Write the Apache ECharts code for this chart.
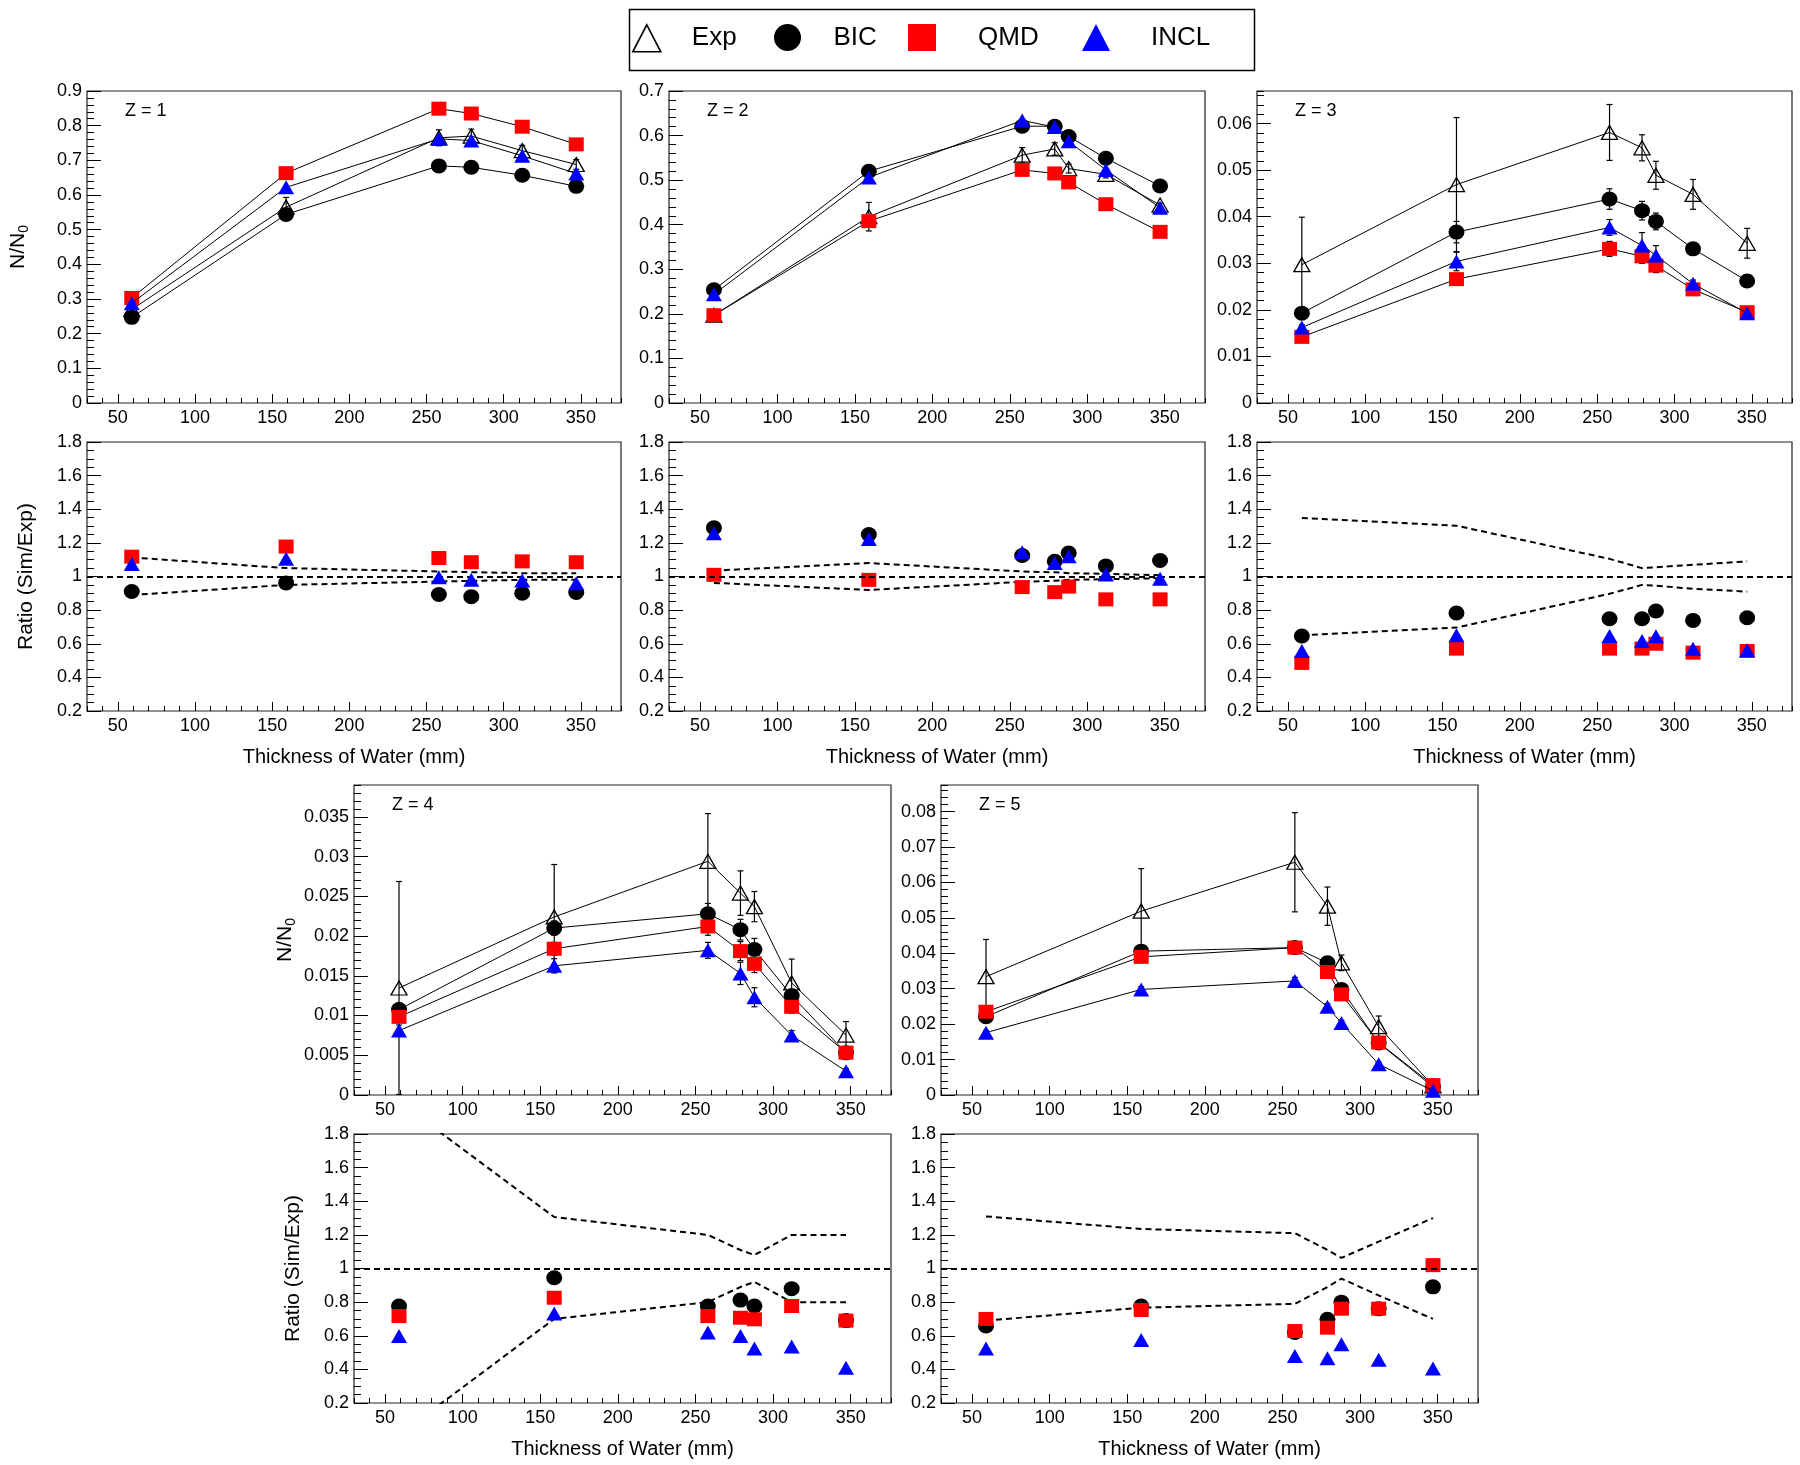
<!DOCTYPE html>
<html><head><meta charset="utf-8">
<script src="https://cdn.jsdelivr.net/npm/echarts@6/dist/echarts.min.js"></script>
<style>html,body{margin:0;padding:0;background:#fff}#c{width:1800px;height:1465px}</style>
</head><body><div id="c"></div>
<script>
// ---------------- DATA ----------------
const seriesNames = ['Exp', 'BIC', 'QMD', 'INCL'];
const xMajorTicks = [50, 100, 150, 200, 250, 300, 350];
const X6 = [59, 159, 258, 279, 312, 347];
const X7 = [59, 159, 258, 279, 288, 312, 347];

// Z = 1
const z1Exp    = [0.270, 0.565, 0.765, 0.770, 0.728, 0.688];
const z1ExpErr = [0.030, 0.028, 0.023, 0.020, 0.015, 0.014];
const z1Bic    = [0.247, 0.544, 0.684, 0.680, 0.657, 0.625];
const z1Qmd    = [0.303, 0.663, 0.849, 0.835, 0.797, 0.746];
const z1Incl   = [0.288, 0.622, 0.762, 0.757, 0.713, 0.662];
const z1RBic   = [0.911, 0.962, 0.893, 0.880, 0.900, 0.905];
const z1RQmd   = [1.118, 1.178, 1.110, 1.085, 1.090, 1.085];
const z1RIncl  = [1.075, 1.105, 0.996, 0.980, 0.976, 0.960];
const z1BandUp = [1.113, 1.050, 1.030, 1.026, 1.020, 1.020];
const z1BandLo = [0.890, 0.950, 0.970, 0.974, 0.980, 0.980];

// Z = 2
const z2Exp    = [0.197, 0.418, 0.556, 0.570, 0.526, 0.513, 0.444];
const z2ExpErr = [0.007, 0.032, 0.017, 0.014, 0.010, 0.008, 0.004];
const z2Bic    = [0.254, 0.520, 0.621, 0.621, 0.598, 0.549, 0.487];
const z2Qmd    = [0.197, 0.408, 0.523, 0.515, 0.495, 0.446, 0.384];
const z2Incl   = [0.244, 0.506, 0.634, 0.619, 0.587, 0.523, 0.438];
const z2RBic   = [1.290, 1.250, 1.125, 1.090, 1.140, 1.063, 1.095];
const z2RQmd   = [1.010, 0.980, 0.937, 0.907, 0.940, 0.864, 0.864];
const z2RIncl  = [1.257, 1.223, 1.144, 1.080, 1.120, 1.012, 0.986];
const z2BandUp = [1.035, 1.080, 1.030, 1.025, 1.020, 1.016, 1.008];
const z2BandLo = [0.962, 0.920, 0.968, 0.975, 0.980, 0.984, 0.990];

// Z = 3
const z3Exp     = [0.0297, 0.0469, 0.0581, 0.0548, 0.0489, 0.0448, 0.0343];
const z3ExpErr  = [0.0102, 0.0144, 0.0060, 0.0028, 0.0030, 0.0032, 0.0032];
const z3Bic     = [0.0193, 0.0367, 0.0438, 0.0413, 0.0390, 0.0331, 0.0262];
const z3BicErr  = [0.0006, 0.0023, 0.0022, 0.0020, 0.0018, 0.0008, 0.0006];
const z3Qmd     = [0.0142, 0.0266, 0.0331, 0.0315, 0.0295, 0.0244, 0.0195];
const z3QmdErr  = [0.0005, 0.0007, 0.0016, 0.0015, 0.0015, 0.0008, 0.0006];
const z3Incl    = [0.0162, 0.0304, 0.0377, 0.0338, 0.0317, 0.0256, 0.0193];
const z3InclErr = [0.0006, 0.0020, 0.0017, 0.0028, 0.0021, 0.0008, 0.0006];
const z3RBic    = [0.646, 0.783, 0.749, 0.749, 0.795, 0.739, 0.755];
const z3RQmd    = [0.486, 0.571, 0.571, 0.571, 0.600, 0.547, 0.557];
const z3RIncl   = [0.557, 0.650, 0.646, 0.617, 0.644, 0.571, 0.561];
const z3BandUp  = [1.348, 1.302, 1.105, 1.050, 1.055, 1.070, 1.090];
const z3BandLo  = [0.650, 0.696, 0.897, 0.950, 0.945, 0.927, 0.910];

// Z = 4
const z4Exp     = [0.01346, 0.0224, 0.0294, 0.0254, 0.0237, 0.0141, 0.00754];
const z4ExpErr  = [0.0134, 0.0066, 0.0060, 0.0028, 0.0019, 0.0030, 0.0017];
const z4Bic     = [0.01075, 0.0210, 0.0228, 0.0208, 0.0183, 0.0125, 0.0053];
const z4BicErr  = [0.0008, 0.0009, 0.0013, 0.0013, 0.0014, 0.0008, 0.0004];
const z4Qmd     = [0.00983, 0.0184, 0.0212, 0.0181, 0.0165, 0.0111, 0.00533];
const z4QmdErr  = [0.0007, 0.0008, 0.0011, 0.0012, 0.0011, 0.0008, 0.0004];
const z4Incl    = [0.0081, 0.01625, 0.0182, 0.0153, 0.0123, 0.0075, 0.0030];
const z4InclErr = [0.0007, 0.0009, 0.0010, 0.0014, 0.0012, 0.0006, 0.0003];
const z4RBic    = [0.777, 0.945, 0.777, 0.812, 0.777, 0.880, 0.690];
const z4RQmd    = [0.717, 0.826, 0.717, 0.707, 0.698, 0.777, 0.690];
const z4RIncl   = [0.599, 0.733, 0.619, 0.599, 0.524, 0.536, 0.410];
const z4BandUp  = [1.992, 1.306, 1.200, 1.110, 1.080, 1.200, 1.200];
const z4BandLo  = [0.010, 0.700, 0.800, 0.890, 0.920, 0.800, 0.800];

// Z = 5
const z5Exp     = [0.0334, 0.0519, 0.0657, 0.0533, 0.0373, 0.0193, 0.0026];
const z5ExpErr  = [0.0105, 0.0120, 0.0140, 0.0054, 0.0022, 0.0030, 0.0008];
const z5Bic     = [0.0221, 0.0406, 0.0416, 0.0373, 0.0298, 0.0147, 0.0023];
const z5BicErr  = [0.0008, 0.0012, 0.0015, 0.0012, 0.0010, 0.0006, 0.0002];
const z5Qmd     = [0.0235, 0.0390, 0.0416, 0.0347, 0.0284, 0.0148, 0.0028];
const z5QmdErr  = [0.0008, 0.0010, 0.0014, 0.0011, 0.0010, 0.0006, 0.0002];
const z5Incl    = [0.0176, 0.0298, 0.0322, 0.0249, 0.0203, 0.0087, 0.0012];
const z5InclErr = [0.0006, 0.0008, 0.0010, 0.0009, 0.0008, 0.0005, 0.0002];
const z5RBic    = [0.658, 0.777, 0.620, 0.698, 0.800, 0.760, 0.891];
const z5RQmd    = [0.700, 0.753, 0.628, 0.648, 0.761, 0.761, 1.020];
const z5RIncl   = [0.524, 0.575, 0.480, 0.466, 0.550, 0.457, 0.405];
const z5BandUp  = [1.310, 1.235, 1.210, 1.110, 1.063, 1.160, 1.300];
const z5BandLo  = [0.690, 0.767, 0.790, 0.890, 0.940, 0.840, 0.700];

const panelLabels = ['Z = 1', 'Z = 2', 'Z = 3', 'Z = 4', 'Z = 5'];
const xTitle = 'Thickness of Water (mm)';
const yTitleN = 'N/N{sub|0}';
const yTitleR = 'Ratio (Sim/Exp)';

// ---------------- LAYOUT / STYLE ----------------
const FONT = '"Liberation Sans", Arial, Helvetica, sans-serif';
const cols = [
  {left: 87, width: 534}, {left: 669, width: 536}, {left: 1257, width: 535},
  {left: 354, width: 537}, {left: 941, width: 537}
];
const nTop = [91, 91, 91, 785, 785], nH = [312, 312, 312, 310, 310];
const rTop = [442, 442, 442, 1134, 1134], rH = 269;

const nPanels = [
  {x: X6, exp: z1Exp, expErr: z1ExpErr, bic: z1Bic, qmd: z1Qmd, incl: z1Incl, errs: null, ymax: 0.9, major: 0.1, minor: 0.02, showMax: true, yName: true},
  {x: X7, exp: z2Exp, expErr: z2ExpErr, bic: z2Bic, qmd: z2Qmd, incl: z2Incl, errs: null, ymax: 0.7, major: 0.1, minor: 0.02, showMax: true, yName: false},
  {x: X7, exp: z3Exp, expErr: z3ExpErr, bic: z3Bic, qmd: z3Qmd, incl: z3Incl, errs: [z3BicErr, z3QmdErr, z3InclErr], ymax: 0.067, major: 0.01, minor: 0.002, showMax: false, yName: false},
  {x: X7, exp: z4Exp, expErr: z4ExpErr, bic: z4Bic, qmd: z4Qmd, incl: z4Incl, errs: [z4BicErr, z4QmdErr, z4InclErr], ymax: 0.039, major: 0.005, minor: 0.001, showMax: false, yName: true},
  {x: X7, exp: z5Exp, expErr: z5ExpErr, bic: z5Bic, qmd: z5Qmd, incl: z5Incl, errs: [z5BicErr, z5QmdErr, z5InclErr], ymax: 0.0875, major: 0.01, minor: 0.002, showMax: false, yName: false}
];
const rPanels = [
  {x: X6, bic: z1RBic, qmd: z1RQmd, incl: z1RIncl, up: z1BandUp, lo: z1BandLo, yName: true},
  {x: X7, bic: z2RBic, qmd: z2RQmd, incl: z2RIncl, up: z2BandUp, lo: z2BandLo, yName: false},
  {x: X7, bic: z3RBic, qmd: z3RQmd, incl: z3RIncl, up: z3BandUp, lo: z3BandLo, yName: false},
  {x: X7, bic: z4RBic, qmd: z4RQmd, incl: z4RIncl, up: z4BandUp, lo: z4BandLo, yName: true},
  {x: X7, bic: z5RBic, qmd: z5RQmd, incl: z5RIncl, up: z5BandUp, lo: z5BandLo, yName: false}
];

const markerStyle = {
  Exp:  {symbol: 'triangle', size: [16, 14], item: {color: 'rgba(255,255,255,0)', borderColor: '#000', borderWidth: 1.3, opacity: 1}},
  BIC:  {symbol: 'circle', size: [16, 15], item: {color: '#000', opacity: 1}},
  QMD:  {symbol: 'rect', size: [15, 14], item: {color: '#ff0000', opacity: 1}},
  INCL: {symbol: 'triangle', size: [16, 14], item: {color: '#0000ff', opacity: 1}}
};
const tickColor = '#000';
const dashed = {type: [6, 4], color: '#000', width: 2};

const grids = [], xAxis = [], yAxis = [], series = [];
const zip = (xs, ys) => xs.map((x, i) => [x, ys[i]]);

function addGrid(g) { grids.push(Object.assign({show: true, borderColor: '#222', borderWidth: 1.2, backgroundColor: 'transparent', containLabel: false}, g)); return grids.length - 1; }

function addAxes(gi, ymin, ymax, major, minor, showMax, xName, yName, yGap, yRich) {
  const xi = xAxis.length, yi = yAxis.length;
  xAxis.push({
    gridIndex: gi, type: 'value', min: 30, max: 376, position: 'bottom',
    axisLine: {show: false}, splitLine: {show: false},
    axisTick: {show: true, inside: true, length: 9, customValues: xMajorTicks, lineStyle: {color: tickColor, width: 1}},
    axisLabel: {show: true, customValues: xMajorTicks, fontSize: 18, color: '#000', fontFamily: FONT, margin: 6},
    name: xName || '', nameLocation: 'middle', nameGap: 36,
    nameTextStyle: {fontSize: 20, color: '#000', fontFamily: FONT}
  });
  xAxis.push({
    gridIndex: gi, type: 'value', min: 30, max: 376, interval: 10, position: 'bottom',
    axisLine: {show: false}, splitLine: {show: false}, axisLabel: {show: false},
    axisTick: {show: true, inside: true, length: 5, lineStyle: {color: tickColor, width: 1}}
  });
  yAxis.push({
    gridIndex: gi, type: 'value', min: ymin, max: ymax, interval: major, position: 'left',
    axisLine: {show: false}, splitLine: {show: false},
    axisTick: {show: true, inside: true, length: 14, lineStyle: {color: tickColor, width: 1}},
    axisLabel: {show: true, fontSize: 18, color: '#000', fontFamily: FONT, margin: 5, showMaxLabel: showMax, showMinLabel: true},
    name: yName || '', nameLocation: 'middle', nameRotate: 90, nameGap: yGap,
    nameTextStyle: {fontSize: 21, color: '#000', fontFamily: FONT, rich: yRich || {}}
  });
  yAxis.push({
    gridIndex: gi, type: 'value', min: ymin, max: ymax, interval: minor, position: 'left',
    axisLine: {show: false}, splitLine: {show: false}, axisLabel: {show: false},
    axisTick: {show: true, inside: true, length: 7, lineStyle: {color: tickColor, width: 1}}
  });
  return [xi, yi];
}

function errSeries(xi, yi, xs, ys, es, z) {
  return {
    type: 'custom', xAxisIndex: xi, yAxisIndex: yi, z: z, silent: true, clip: true,
    data: xs.map((x, i) => [x, ys[i], es[i]]),
    renderItem: function (params, api) {
      const x = api.value(0), y = api.value(1), e = api.value(2);
      const s = {stroke: '#000', lineWidth: 1.2};
      if (!e) return {type: 'group', children: []};
      const t = api.coord([x, y + e]), b = api.coord([x, y - e]);
      const cw = 3;
      return {type: 'group', children: [
        {type: 'line', shape: {x1: t[0], y1: t[1], x2: b[0], y2: b[1]}, style: s},
        {type: 'line', shape: {x1: t[0] - cw, y1: t[1], x2: t[0] + cw, y2: t[1]}, style: s},
        {type: 'line', shape: {x1: b[0] - cw, y1: b[1], x2: b[0] + cw, y2: b[1]}, style: s}
      ]};
    }
  };
}

function lineSeries(name, xi, yi, data, z) {
  const m = markerStyle[name];
  return {
    type: 'line', name: name, xAxisIndex: xi, yAxisIndex: yi, data: data, z: z,
    symbol: m.symbol, symbolSize: m.size, showSymbol: true, showAllSymbol: true,
    itemStyle: m.item, lineStyle: {color: '#000', width: 1}, emphasis: {disabled: true}
  };
}
function scatterSeries(name, xi, yi, data, z) {
  const m = markerStyle[name];
  return {type: 'scatter', name: name, xAxisIndex: xi, yAxisIndex: yi, data: data, z: z,
    symbol: m.symbol, symbolSize: m.size, itemStyle: m.item, emphasis: {disabled: true}};
}

const subRich = {sub: {fontSize: 14, fontFamily: FONT, color: '#000', padding: [12, 0, 0, 0], lineHeight: 14}};

nPanels.forEach((p, i) => {
  const gi = addGrid({left: cols[i].left, width: cols[i].width, top: nTop[i], height: nH[i]});
  const [xi, yi] = addAxes(gi, 0, p.ymax, p.major, p.minor, p.showMax, '', p.yName ? yTitleN : '', 58, subRich);
  series.push(errSeries(xi, yi, p.x, p.exp, p.expErr, 1));
  if (p.errs) {
    series.push(errSeries(xi, yi, p.x, p.bic, p.errs[0], 1));
    series.push(errSeries(xi, yi, p.x, p.qmd, p.errs[1], 1));
    series.push(errSeries(xi, yi, p.x, p.incl, p.errs[2], 1));
  }
  series.push(lineSeries('Exp', xi, yi, zip(p.x, p.exp), 2));
  series.push(lineSeries('BIC', xi, yi, zip(p.x, p.bic), 3));
  series.push(lineSeries('QMD', xi, yi, zip(p.x, p.qmd), 4));
  series.push(lineSeries('INCL', xi, yi, zip(p.x, p.incl), 5));
});

rPanels.forEach((p, i) => {
  const gi = addGrid({left: cols[i].left, width: cols[i].width, top: rTop[i], height: rH});
  const [xi, yi] = addAxes(gi, 0.2, 1.8, 0.2, 0.05, true, xTitle, p.yName ? yTitleR : '', 50, null);
  series.push({
    type: 'line', xAxisIndex: xi, yAxisIndex: yi, data: zip(p.x, p.up), symbol: 'none', z: 1, silent: true,
    lineStyle: dashed, clip: true,
    markLine: {silent: true, symbol: 'none', label: {show: false}, lineStyle: dashed, data: [{yAxis: 1}], animation: false}
  });
  series.push({type: 'line', xAxisIndex: xi, yAxisIndex: yi, data: zip(p.x, p.lo), symbol: 'none', z: 1, silent: true, lineStyle: dashed, clip: true});
  series.push(scatterSeries('BIC', xi, yi, zip(p.x, p.bic), 3));
  series.push(scatterSeries('QMD', xi, yi, zip(p.x, p.qmd), 4));
  series.push(scatterSeries('INCL', xi, yi, zip(p.x, p.incl), 5));
});

// Legend
const legendPos = [{left: 632, pad: 26}, {left: 774, pad: 27}, {left: 908, pad: 37}, {left: 1082, pad: 36}];
const legend = seriesNames.map((n, i) => ({
  left: legendPos[i].left, top: 24, padding: 0, itemWidth: 28, itemHeight: 27, selectedMode: false,
  data: [{name: n, icon: markerStyle[n].symbol, itemStyle: Object.assign({}, markerStyle[n].item, n === 'Exp' ? {borderWidth: 1.6} : {})}],
  textStyle: {fontSize: 26, color: '#000', fontFamily: FONT, padding: [0, 0, 0, legendPos[i].pad]}
}));

const graphic = [
  {type: 'rect', left: 627, top: 7, shape: {x: 0, y: 0, width: 625, height: 61}, style: {fill: 'none', stroke: '#000', lineWidth: 1.5}, silent: true}
];
panelLabels.forEach((t, i) => {
  graphic.push({type: 'text', x: cols[i].left + 38, y: nTop[i] + 20, silent: true,
    style: {text: t, fontSize: 18, fontFamily: FONT, fill: '#000', verticalAlign: 'middle', align: 'left'}});
});

const chart = echarts.init(document.getElementById('c'), null, {renderer: 'canvas'});
chart.setOption({
  animation: false, backgroundColor: '#fff',
  textStyle: {fontFamily: FONT},
  grid: grids, xAxis: xAxis, yAxis: yAxis, series: series, legend: legend, graphic: graphic
});
</script></body></html>
